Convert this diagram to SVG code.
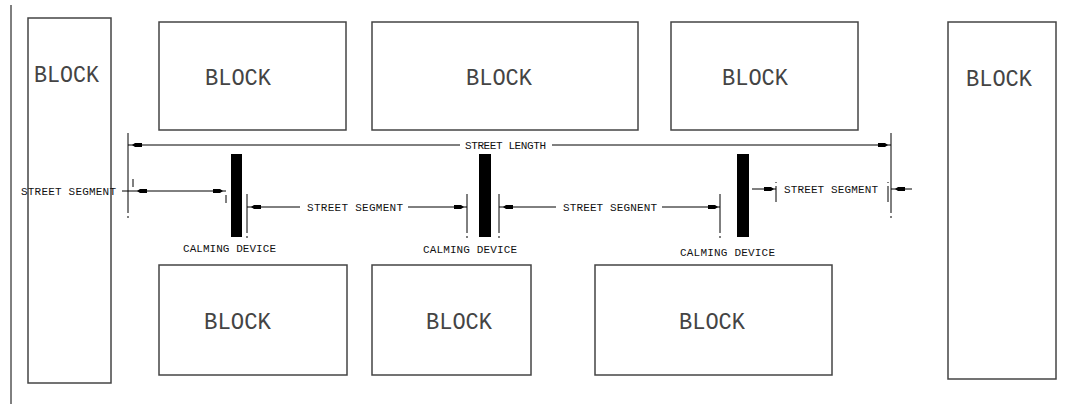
<svg xmlns="http://www.w3.org/2000/svg" xmlns:xlink="http://www.w3.org/1999/xlink" width="1075" height="404" viewBox="0 0 1075 404">
<style>
.blk{fill:#fff;stroke:#444;stroke-width:1.5}
.bt{font-family:"Liberation Mono","DejaVu Sans Mono",monospace;font-size:23px;fill:#444}
.st{font-family:"Liberation Mono","DejaVu Sans Mono",monospace;font-size:11px;fill:#111}
.ln{stroke:#000;stroke-width:1;fill:none}
.dev{fill:#000}
</style>
<defs>
<path id="ahR" d="M0,0 L-3,-2 L-10,-2 L-10,2 L-3,2 Z"/>
<path id="ahL" d="M0,0 L3,-2 L10,-2 L10,2 L3,2 Z"/>
</defs>
<rect width="1075" height="404" fill="#fff"/>
<line x1="11" y1="5" x2="11" y2="404" class="ln"/>
<g id="block-left"><rect class="blk" x="28" y="18" width="83" height="365"/><text class="bt" x="34" y="82" textLength="65" lengthAdjust="spacingAndGlyphs">BLOCK</text></g>
<g id="block-top1"><rect class="blk" x="159" y="22" width="187" height="108"/><text class="bt" x="205" y="85" textLength="66" lengthAdjust="spacingAndGlyphs">BLOCK</text></g>
<g id="block-top2"><rect class="blk" x="372" y="22" width="266" height="108"/><text class="bt" x="466" y="85" textLength="66" lengthAdjust="spacingAndGlyphs">BLOCK</text></g>
<g id="block-top3"><rect class="blk" x="671" y="22" width="187" height="108"/><text class="bt" x="722" y="85" textLength="66" lengthAdjust="spacingAndGlyphs">BLOCK</text></g>
<g id="block-right"><rect class="blk" x="948" y="22" width="108" height="357"/><text class="bt" x="966" y="86" textLength="66" lengthAdjust="spacingAndGlyphs">BLOCK</text></g>
<g id="block-bot1"><rect class="blk" x="159" y="265" width="188" height="110"/><text class="bt" x="204" y="329" textLength="67" lengthAdjust="spacingAndGlyphs">BLOCK</text></g>
<g id="block-bot2"><rect class="blk" x="372" y="265" width="159" height="110"/><text class="bt" x="426" y="329" textLength="66" lengthAdjust="spacingAndGlyphs">BLOCK</text></g>
<g id="block-bot3"><rect class="blk" x="595" y="265" width="237" height="110"/><text class="bt" x="679" y="329" textLength="66" lengthAdjust="spacingAndGlyphs">BLOCK</text></g>
<g id="device1"><rect class="dev" x="231" y="154" width="11" height="83"/><text class="st" x="183" y="252" textLength="93">CALMING DEVICE</text></g>
<g id="device2"><rect class="dev" x="479" y="154" width="12" height="83"/><text class="st" x="423" y="253" textLength="94">CALMING DEVICE</text></g>
<g id="device3"><rect class="dev" x="737" y="154" width="12" height="83"/><text class="st" x="680" y="256" textLength="95">CALMING DEVICE</text></g>
<g id="connectors">
<line class="ln" x1="128" y1="133" x2="128" y2="213"/><line class="ln" x1="128" y1="216" x2="128" y2="218"/>
<line class="ln" x1="891" y1="133" x2="891" y2="213"/><line class="ln" x1="891" y1="216" x2="891" y2="218"/>
<line class="ln" x1="128" y1="145" x2="460" y2="145"/>
<line class="ln" x1="552" y1="145" x2="891" y2="145"/>
<use xlink:href="#ahL" x="132" y="145"/>
<use xlink:href="#ahR" x="888" y="145"/>
<text class="st" x="465" y="148.5" textLength="81">STREET LENGTH</text>
<text class="st" x="21" y="194.5" textLength="95">STREET SEGMENT</text>
<line class="ln" x1="122" y1="191" x2="226" y2="191"/>
<line class="ln" x1="133" y1="179" x2="133" y2="187"/>
<line class="ln" x1="226" y1="195" x2="226" y2="203"/>
<use xlink:href="#ahL" x="137" y="191"/>
<use xlink:href="#ahR" x="223" y="191"/>
<line class="ln" x1="247" y1="194" x2="247" y2="233"/><line class="ln" x1="247" y1="236" x2="247" y2="238"/>
<line class="ln" x1="467" y1="194" x2="467" y2="233"/><line class="ln" x1="467" y1="236" x2="467" y2="238"/>
<line class="ln" x1="499" y1="194" x2="499" y2="233"/><line class="ln" x1="499" y1="236" x2="499" y2="238"/>
<line class="ln" x1="720" y1="194" x2="720" y2="233"/><line class="ln" x1="720" y1="236" x2="720" y2="238"/>
<line class="ln" x1="247" y1="207" x2="300" y2="207"/>
<line class="ln" x1="408" y1="207" x2="467" y2="207"/>
<use xlink:href="#ahL" x="251" y="207"/>
<use xlink:href="#ahR" x="464" y="207"/>
<text class="st" x="307" y="210.5" textLength="96">STREET SEGMENT</text>
<line class="ln" x1="499" y1="207" x2="556" y2="207"/>
<line class="ln" x1="662" y1="207" x2="720" y2="207"/>
<use xlink:href="#ahL" x="503" y="207"/>
<use xlink:href="#ahR" x="718" y="207"/>
<text class="st" x="563" y="210.5" textLength="94">STREET SEGNENT</text>
<line class="ln" x1="752" y1="189" x2="776" y2="189"/>
<use xlink:href="#ahR" x="774" y="189"/>
<line class="ln" x1="776" y1="182" x2="776" y2="183"/><line class="ln" x1="776" y1="186" x2="776" y2="202"/>
<text class="st" x="784" y="192.5" textLength="94">STREET SEGMENT</text>
<line class="ln" x1="888" y1="182" x2="888" y2="183"/><line class="ln" x1="888" y1="186" x2="888" y2="202"/>
<line class="ln" x1="891" y1="189" x2="912" y2="189"/>
<use xlink:href="#ahL" x="895" y="189"/>
</g>
</svg>
